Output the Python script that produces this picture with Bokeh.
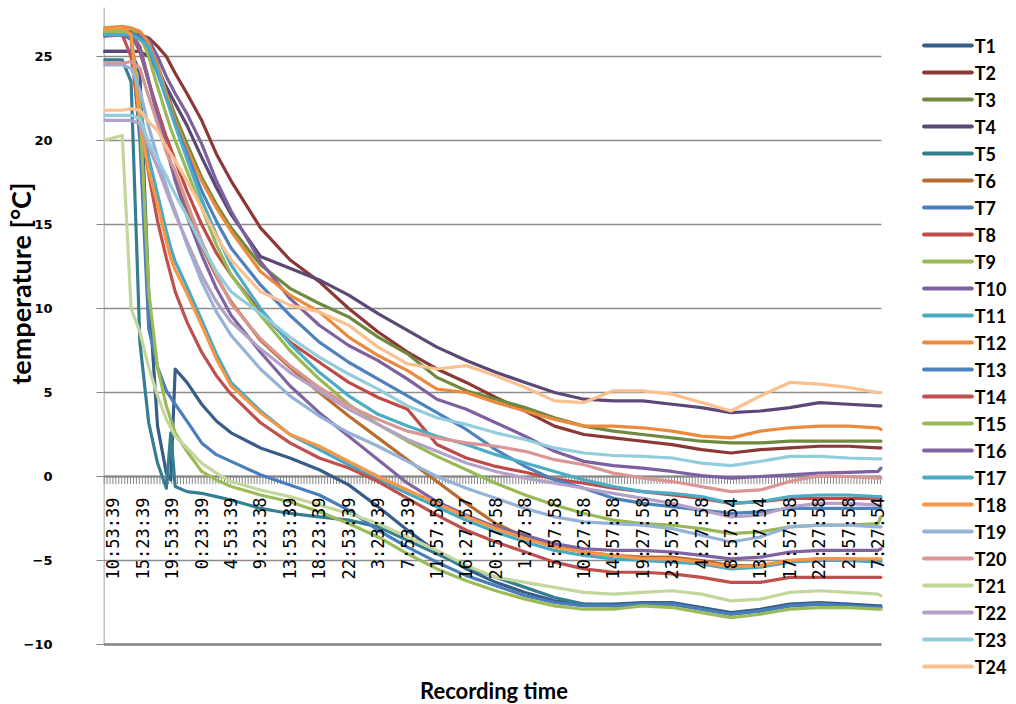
import math
import numpy as np
from bokeh.plotting import figure
from bokeh.models import Range1d, FixedTicker
from bokeh.core.properties import value
from bokeh.embed import file_html
from bokeh.resources import INLINE

# ---------------- data ----------------
TIME_LABELS = ["10:53:39", "15:23:39", "19:53:39", "0:23:39", "4:53:39", "9:23:38",
               "13:53:39", "18:23:39", "22:53:39", "3:23:39", "7:53:39", "11:57:58",
               "16:27:57", "20:57:58", "1:27:58", "5:57:58", "10:27:58", "14:57:58",
               "19:27:58", "23:57:58", "4:27:58", "8:57:54", "13:27:54", "17:57:58",
               "22:27:58", "2:57:58", "7:27:54"]

# sample positions, in units of the time-label spacing
GRID = [-0.34, 0.3, 0.6, 0.9, 1.2, 1.5, 1.8, 1.95, 2.1, 2.5, 3, 3.5, 4, 5, 6, 7, 8, 9, 10,
        11, 12, 13, 14, 15, 16, 17, 18, 19, 20, 21, 22, 23, 24, 25, 26, 26.1]

T1 = [25.3, 25.3, 25.3, 24.0, 11.0, 3.0, 0.2, -0.2, 6.4, 5.6, 4.3, 3.3, 2.6, 1.7, 1.1, 0.4, -0.5, -1.8, -3.2, -4.5, -5.5, -6.3, -6.9, -7.4, -7.6, -7.6, -7.5, -7.5, -7.8, -8.1, -7.9, -7.6, -7.5, -7.6, -7.7, -7.7]
T2 = [26.3, 26.3, 26.3, 26.3, 26.1, 25.6, 25.0, 24.5, 24.0, 22.8, 21.2, 19.2, 17.6, 14.8, 12.9, 11.6, 10.0, 8.6, 7.4, 6.4, 5.6, 4.7, 3.9, 3.0, 2.5, 2.3, 2.1, 1.9, 1.6, 1.4, 1.6, 1.7, 1.8, 1.8, 1.7, 1.7]
T3 = [26.5, 26.5, 26.5, 26.4, 25.8, 24.5, 23.0, 22.2, 21.5, 19.8, 17.8, 16.2, 14.8, 12.6, 11.2, 10.3, 9.5, 8.3, 7.3, 5.9, 5.1, 4.6, 4.1, 3.5, 3.0, 2.7, 2.5, 2.3, 2.1, 2.0, 2.0, 2.1, 2.1, 2.1, 2.1, 2.1]
T4 = [25.3, 25.3, 25.3, 25.3, 25.0, 24.2, 23.2, 22.7, 22.2, 20.9, 19.0, 17.2, 15.6, 13.1, 12.4, 11.7, 10.8, 9.7, 8.7, 7.7, 6.9, 6.2, 5.6, 5.0, 4.6, 4.5, 4.5, 4.3, 4.1, 3.8, 3.9, 4.1, 4.4, 4.3, 4.2, 4.2]
T5 = [24.8, 24.8, 23.5, 8.0, 3.2, 0.8, -0.7, 2.6, -0.6, -0.9, -1.0, -1.2, -1.4, -1.9, -2.2, -2.4, -2.6, -3.0, -3.8, -4.6, -5.4, -6.0, -6.6, -7.2, -7.6, -7.7, -7.6, -7.6, -7.9, -8.2, -8.0, -7.7, -7.6, -7.7, -7.8, -7.8]
T6 = [26.5, 26.5, 26.4, 25.6, 23.6, 21.4, 19.5, 18.6, 17.8, 15.8, 13.7, 11.9, 10.4, 8.1, 6.5, 5.0, 3.6, 2.3, 1.0, -0.3, -1.6, -2.8, -3.6, -4.1, -4.5, -4.7, -4.8, -4.8, -5.0, -5.3, -5.3, -5.0, -4.9, -4.9, -5.0, -5.0]
T7 = [26.2, 26.3, 26.0, 20.0, 8.8, 6.5, 5.1, 4.7, 4.3, 3.3, 2.0, 1.3, 0.9, 0.1, -0.5, -1.1, -2.0, -3.2, -4.2, -5.1, -5.9, -6.5, -7.1, -7.5, -7.7, -7.7, -7.6, -7.6, -7.9, -8.2, -8.0, -7.7, -7.6, -7.7, -7.8, -7.8]
T8 = [26.3, 26.3, 26.3, 25.3, 23.5, 21.8, 20.2, 19.5, 18.8, 17.0, 15.0, 13.3, 12.0, 9.8, 8.0, 6.8, 5.6, 4.7, 4.0, 1.9, 1.1, 0.6, 0.25, -0.15, -0.4, -0.7, -0.9, -1.1, -1.3, -1.6, -1.5, -1.3, -1.3, -1.3, -1.3, -1.3]
T9 = [26.7, 26.8, 26.7, 26.3, 25.0, 23.2, 21.5, 20.7, 20.0, 18.2, 16.0, 13.8, 12.0, 9.6, 7.5, 5.8, 4.3, 3.1, 2.1, 1.2, 0.4, -0.4, -1.1, -1.7, -2.2, -2.6, -2.8, -2.9, -3.1, -3.4, -3.3, -3.0, -2.9, -2.9, -2.8, -2.4]
T10 = [26.3, 26.3, 26.3, 26.3, 26.0, 25.0, 23.8, 23.3, 22.8, 21.6, 19.8, 17.6, 15.8, 12.8, 10.6, 9.0, 7.8, 6.9, 5.8, 4.6, 4.0, 3.2, 2.4, 1.5, 0.9, 0.65, 0.5, 0.3, 0.05, -0.1, 0.0, 0.1, 0.2, 0.25, 0.3, 0.5]
T11 = [26.4, 26.5, 26.3, 22.0, 19.0, 16.8, 14.6, 13.6, 12.8, 11.3, 9.3, 7.3, 5.6, 3.9, 2.5, 1.6, 0.7, -0.2, -1.0, -1.8, -2.6, -3.3, -3.9, -4.4, -4.7, -4.9, -5.0, -5.1, -5.2, -5.5, -5.4, -5.1, -5.0, -5.0, -5.1, -5.1]
T12 = [26.7, 26.7, 26.7, 26.5, 25.8, 24.5, 22.8, 22.0, 21.2, 19.5, 17.6, 16.0, 14.6, 12.2, 10.8, 9.8, 8.3, 7.2, 6.3, 5.2, 5.0, 4.4, 3.9, 3.4, 3.0, 3.0, 2.9, 2.7, 2.4, 2.3, 2.7, 2.9, 3.0, 3.0, 2.9, 2.8]
T13 = [26.3, 26.3, 26.3, 26.2, 25.5, 24.0, 22.5, 21.8, 21.0, 19.2, 17.0, 15.2, 13.6, 11.4, 9.6, 8.0, 6.8, 5.8, 4.8, 3.8, 2.8, 1.6, 0.6, -0.2, -0.7, -1.3, -1.6, -1.8, -2.0, -2.2, -2.1, -1.9, -1.9, -1.9, -1.9, -1.9]
T14 = [26.3, 26.3, 25.0, 21.3, 18.0, 15.2, 13.0, 12.0, 11.0, 9.2, 7.4, 6.0, 4.9, 3.2, 2.0, 1.1, 0.5, -0.3, -1.3, -2.3, -3.2, -3.9, -4.5, -5.1, -5.5, -5.7, -5.7, -5.8, -6.0, -6.3, -6.3, -6.0, -6.0, -6.0, -6.0, -6.0]
T15 = [26.5, 26.5, 26.3, 22.0, 11.0, 6.5, 4.2, 3.4, 2.6, 1.5, 0.3, -0.2, -0.6, -1.1, -1.5, -2.1, -2.8, -3.6, -4.6, -5.5, -6.2, -6.8, -7.3, -7.7, -7.9, -7.9, -7.7, -7.8, -8.1, -8.4, -8.2, -7.9, -7.8, -7.8, -7.9, -7.9]
T16 = [26.3, 26.3, 26.2, 25.5, 23.5, 21.5, 19.6, 18.6, 17.6, 15.5, 13.2, 11.2, 9.6, 7.4, 5.4, 3.8, 2.4, 1.0, -0.4, -1.5, -2.3, -3.0, -3.5, -4.0, -4.3, -4.4, -4.4, -4.5, -4.7, -4.9, -4.8, -4.5, -4.4, -4.4, -4.4, -4.3]
T17 = [26.3, 26.3, 26.3, 26.0, 25.6, 24.2, 22.5, 21.7, 20.9, 18.9, 16.5, 14.4, 12.6, 10.0, 7.9, 6.2, 4.8, 3.7, 3.0, 2.4, 1.9, 1.3, 0.8, 0.3, -0.2, -0.6, -0.9, -1.0, -1.2, -1.6, -1.5, -1.2, -1.1, -1.1, -1.2, -1.2]
T18 = [26.6, 26.7, 26.3, 21.0, 18.2, 16.2, 14.0, 13.0, 12.3, 10.9, 9.0, 7.0, 5.4, 3.8, 2.5, 1.8, 0.9, 0.0, -0.8, -1.6, -2.4, -3.1, -3.7, -4.2, -4.5, -4.7, -4.9, -4.9, -5.1, -5.4, -5.3, -5.0, -4.9, -4.9, -4.9, -4.9]
T19 = [24.5, 24.5, 24.3, 23.0, 20.8, 19.0, 17.3, 16.5, 15.8, 13.8, 11.6, 9.8, 8.4, 6.4, 4.8, 3.6, 2.6, 1.8, 0.9, 0.0, -0.7, -1.3, -1.9, -2.4, -2.7, -2.8, -2.9, -3.1, -3.5, -3.9, -3.6, -3.0, -2.9, -2.9, -3.0, -3.0]
T20 = [24.6, 24.6, 24.7, 24.3, 22.6, 21.0, 19.3, 18.7, 18.2, 16.3, 14.0, 12.0, 10.3, 8.2, 6.6, 5.3, 4.2, 3.4, 2.7, 2.3, 2.0, 1.8, 1.5, 1.0, 0.7, 0.2, -0.1, -0.3, -0.6, -0.9, -0.8, -0.3, 0.05, 0.0, -0.1, -0.1]
T21 = [20.0, 20.3, 10.0, 8.6, 6.5, 4.8, 3.4, 2.9, 2.4, 1.7, 0.8, 0.2, -0.3, -0.8, -1.2, -1.7, -2.2, -2.8, -3.6, -4.4, -5.3, -6.0, -6.3, -6.6, -6.9, -7.0, -6.9, -6.8, -7.0, -7.4, -7.3, -6.9, -6.8, -6.9, -7.0, -7.1]
T22 = [21.2, 21.2, 21.2, 21.0, 19.6, 18.4, 17.0, 16.3, 15.6, 14.0, 12.0, 10.4, 9.2, 7.6, 6.2, 5.1, 4.0, 3.1, 2.2, 1.5, 0.8, 0.3, -0.1, -0.4, -0.7, -1.0, -1.3, -1.6, -2.0, -2.4, -2.3, -1.8, -1.6, -1.6, -1.7, -1.7]
T23 = [21.5, 21.5, 21.5, 21.3, 19.9, 18.9, 17.9, 17.3, 16.8, 15.5, 13.8, 12.2, 11.0, 9.7, 8.3, 7.1, 6.1, 5.2, 4.2, 3.5, 3.1, 2.6, 2.2, 1.7, 1.4, 1.25, 1.2, 1.1, 0.8, 0.65, 0.9, 1.2, 1.2, 1.1, 1.05, 1.05]
T24 = [21.8, 21.8, 21.9, 21.8, 21.1, 20.6, 19.6, 19.2, 18.8, 17.6, 16.0, 14.3, 12.9, 11.0, 10.2, 9.8, 9.0, 7.7, 6.7, 6.4, 6.6, 6.0, 5.3, 4.5, 4.4, 5.1, 5.1, 4.9, 4.4, 3.9, 4.8, 5.6, 5.5, 5.3, 5.0, 5.0]

SERIES_NAMES = ["T1", "T2", "T3", "T4", "T5", "T6", "T7", "T8", "T9", "T10", "T11", "T12",
                "T13", "T14", "T15", "T16", "T17", "T18", "T19", "T20", "T21", "T22", "T23", "T24"]
SERIES = [T1, T2, T3, T4, T5, T6, T7, T8, T9, T10, T11, T12,
          T13, T14, T15, T16, T17, T18, T19, T20, T21, T22, T23, T24]
Y_TICKS = [-10, -5, 0, 5, 10, 15, 20, 25]
X_TITLE = "Recording time"
Y_TITLE = "temperature  [°C]"

COLORS = ["#385D8A", "#8C3836", "#71893F", "#5C4776", "#357D91", "#B66D31",
          "#4A7EBB", "#BE4B48", "#98B954", "#7D60A0", "#46AAC5", "#EB8A3C",
          "#4F81BD", "#C0504D", "#9BBB59", "#8064A2", "#4BACC6", "#F79646",
          "#95B3D7", "#D99694", "#C3D69B", "#B3A2C7", "#93CDDD", "#FAC090"]
AXIS_GRAY = "#868686"

# ---------------- geometry (pixels) ----------------
W, H = 1016, 704
LEFT_W = 97            # y-axis panel; the frame covers everything else
PX_X = 29.6            # pixels per label step
PX_Y = 16.8            # pixels per degree
ZERO_PX = 476          # pixel row of 0 degC
X0 = (LEFT_W - 107) / PX_X          # first label sits 10px right of the plot edge
X1 = X0 + 783 / PX_X                # right end of the plot area
XR_END = X0 + (W - LEFT_W) / PX_X
Y_TOP = ZERO_PX / PX_Y
Y_BOT = -(H - ZERO_PX) / PX_Y
Y_LO = -10


def xpx(px):
    return X0 + (px - LEFT_W) / PX_X


def ypx(py):
    return (ZERO_PX - py) / PX_Y


p = figure(width=W, height=H, output_backend="svg", toolbar_location=None,
           x_range=Range1d(X0, XR_END), y_range=Range1d(Y_BOT, Y_TOP),
           min_border_left=LEFT_W, min_border_right=0, min_border_top=0, min_border_bottom=0)
p.outline_line_color = None
p.background_fill_color = "white"
p.border_fill_color = "white"
p.xgrid.visible = False
p.ygrid.visible = False
p.xaxis.visible = False

# y axis: ticks and labels from Bokeh, line drawn over the plot span only
p.yaxis.ticker = FixedTicker(ticks=Y_TICKS)
p.yaxis.axis_line_color = None
p.yaxis.major_tick_line_color = AXIS_GRAY
p.yaxis.major_tick_out = 7
p.yaxis.major_tick_in = 0
p.yaxis.minor_tick_line_color = None
p.yaxis.major_label_text_font = "DejaVu Sans"
p.yaxis.major_label_text_font_style = "bold"
p.yaxis.major_label_text_font_size = "13px"
p.yaxis.major_label_text_color = "black"
p.yaxis.major_label_standoff = 44
# leading no-break spaces lift the title so it sits where the original has it
p.yaxis.axis_label = "\u00a0" * 22 + Y_TITLE
p.yaxis.axis_label_text_font = "Lato"
p.yaxis.axis_label_text_font_style = "bold"
p.yaxis.axis_label_text_font_size = "27px"
p.yaxis.axis_label_text_color = "black"
p.yaxis.axis_label_standoff = -16

p.segment(x0=[X0 + 0.5 / PX_X], y0=[Y_LO], x1=[X0 + 0.5 / PX_X], y1=[ypx(7)],
          line_color=AXIS_GRAY, line_width=1)

# horizontal gridlines over the plot area only
p.segment(x0=[X0] * len(Y_TICKS), y0=Y_TICKS, x1=[X1] * len(Y_TICKS), y1=Y_TICKS,
          line_color="#8C8C8C", line_width=1.5)
p.segment(x0=[X0], y0=[Y_LO], x1=[X1], y1=[Y_LO], line_color=AXIS_GRAY, line_width=2.5)

# category axis crossing at 0: line + dense tick comb
p.segment(x0=[X0], y0=[0], x1=[X1], y1=[0], line_color=AXIS_GRAY, line_width=2)
comb = np.arange(X0 + 0.02, X1, 0.1)
p.segment(x0=comb, y0=np.zeros_like(comb), x1=comb, y1=np.full_like(comb, -0.45),
          line_color=AXIS_GRAY, line_width=1)

# series
for ys, col in zip(SERIES, COLORS):
    p.line(GRID, ys, line_color=col, line_width=3.2, line_join="round", line_cap="round")

# time labels below the zero line
p.text(x=list(range(len(TIME_LABELS))), y=[0] * len(TIME_LABELS), text=TIME_LABELS,
       angle=math.pi / 2, text_align="right", text_baseline="middle", y_offset=21,
       text_font=value("DejaVu Sans Mono"), text_font_size="17px", text_color="black")

# x title
p.text(x=[xpx(490)], y=[ypx(690)], text=[X_TITLE], text_align="center", text_baseline="middle",
       text_font=value("Lato"), text_font_style="bold", text_font_size="22px", text_color="black")

# legend (right of the plot area)
n = len(SERIES_NAMES)
leg_y = [ypx(45 + 27 * i) for i in range(n)]
p.segment(x0=[xpx(923)] * n, y0=leg_y, x1=[xpx(971)] * n, y1=leg_y,
          line_color=COLORS, line_width=4, line_cap="round")
p.text(x=[xpx(974)] * n, y=leg_y, text=SERIES_NAMES, text_align="left", text_baseline="middle",
       text_font=value("Lato"), text_font_style="bold", text_font_size="18px", text_color="black")

open("out.html", "w").write(file_html(p, INLINE))
